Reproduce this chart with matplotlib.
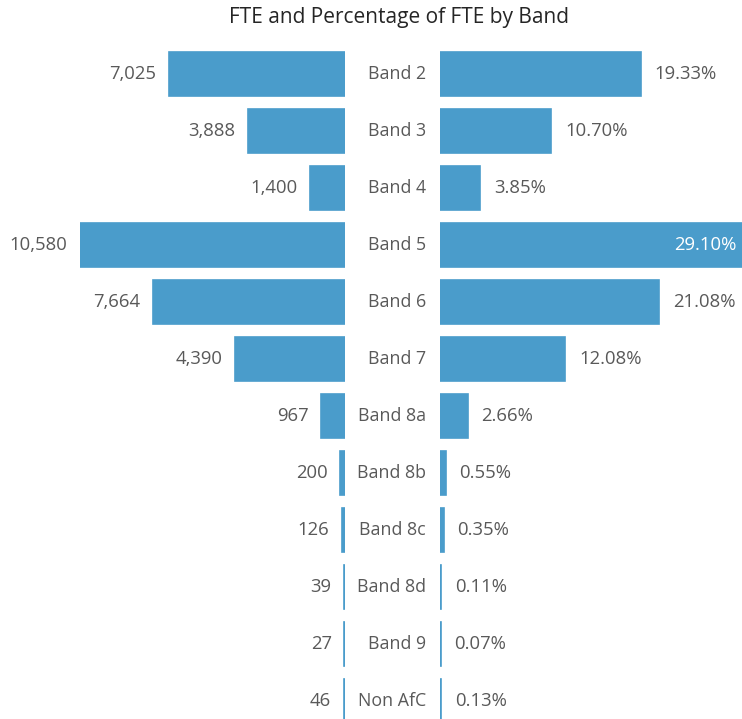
import matplotlib.pyplot as plt

bands = ["Band 2", "Band 3", "Band 4", "Band 5", "Band 6", "Band 7",
         "Band 8a", "Band 8b", "Band 8c", "Band 8d", "Band 9", "Non AfC"]
fte = [7025, 3888, 1400, 10580, 7664, 4390, 967, 200, 126, 39, 27, 46]
pct = [19.33, 10.70, 3.85, 29.10, 21.08, 12.08, 2.66, 0.55, 0.35, 0.11, 0.07, 0.13]

W, H = 742, 719
BLUE = "#4a9ccb"
GREY = "#595959"
FS = 13.3
plt.rcParams["font.family"] = ["Open Sans", "DejaVu Sans"]

fig = plt.figure(figsize=(W / 100, H / 100), dpi=100)

def px_axes(x0, x1, y0, y1):
    # pixel box (top-left origin) -> figure axes
    return fig.add_axes([x0 / W, 1 - y1 / H, (x1 - x0) / W, (y1 - y0) / H])

row = 57.0
top = 45.5
ax_l = px_axes(80, 345, top, H)
ax_r = px_axes(440, 742, top, H)
ylim = (-0.5 + (H - top) / row, -0.5)

y = list(range(len(bands)))
ax_l.barh(y, fte, height=0.77, color=BLUE, edgecolor=BLUE, linewidth=1.2)
ax_r.barh(y, pct, height=0.77, color=BLUE, edgecolor=BLUE, linewidth=1.2)
ax_l.set_xlim(max(fte), 0)
ax_r.set_xlim(0, max(pct))

for ax in (ax_l, ax_r):
    ax.set_ylim(*ylim)
    ax.axis("off")

for i, v in enumerate(fte):
    ax_l.annotate(f"{v:,}", (v, i), xytext=(-9, 0), textcoords="offset points",
                  ha="right", va="center", fontsize=FS, color=GREY, annotation_clip=False)

for i, v in enumerate(pct):
    if v == max(pct):
        ax_r.annotate(f"{v:.2f}%", (v, i), xytext=(-4, 0), textcoords="offset points",
                      ha="right", va="center", fontsize=FS, color="white")
    else:
        ax_r.annotate(f"{v:.2f}%", (v, i), xytext=(10, 0), textcoords="offset points",
                      ha="left", va="center", fontsize=FS, color=GREY)

# band names between the two halves
for i, b in enumerate(bands):
    ax_r.annotate(b, (0, i), xytext=(-10, 0), textcoords="offset points",
                  ha="right", va="center", fontsize=FS - 0.5, color=GREY, annotation_clip=False)

fig.text(399 / W, 1 - 18 / H, "FTE and Percentage of FTE by Band",
         ha="center", va="center", fontsize=15, color="#252525")

fig.savefig("out.png", dpi=100)
